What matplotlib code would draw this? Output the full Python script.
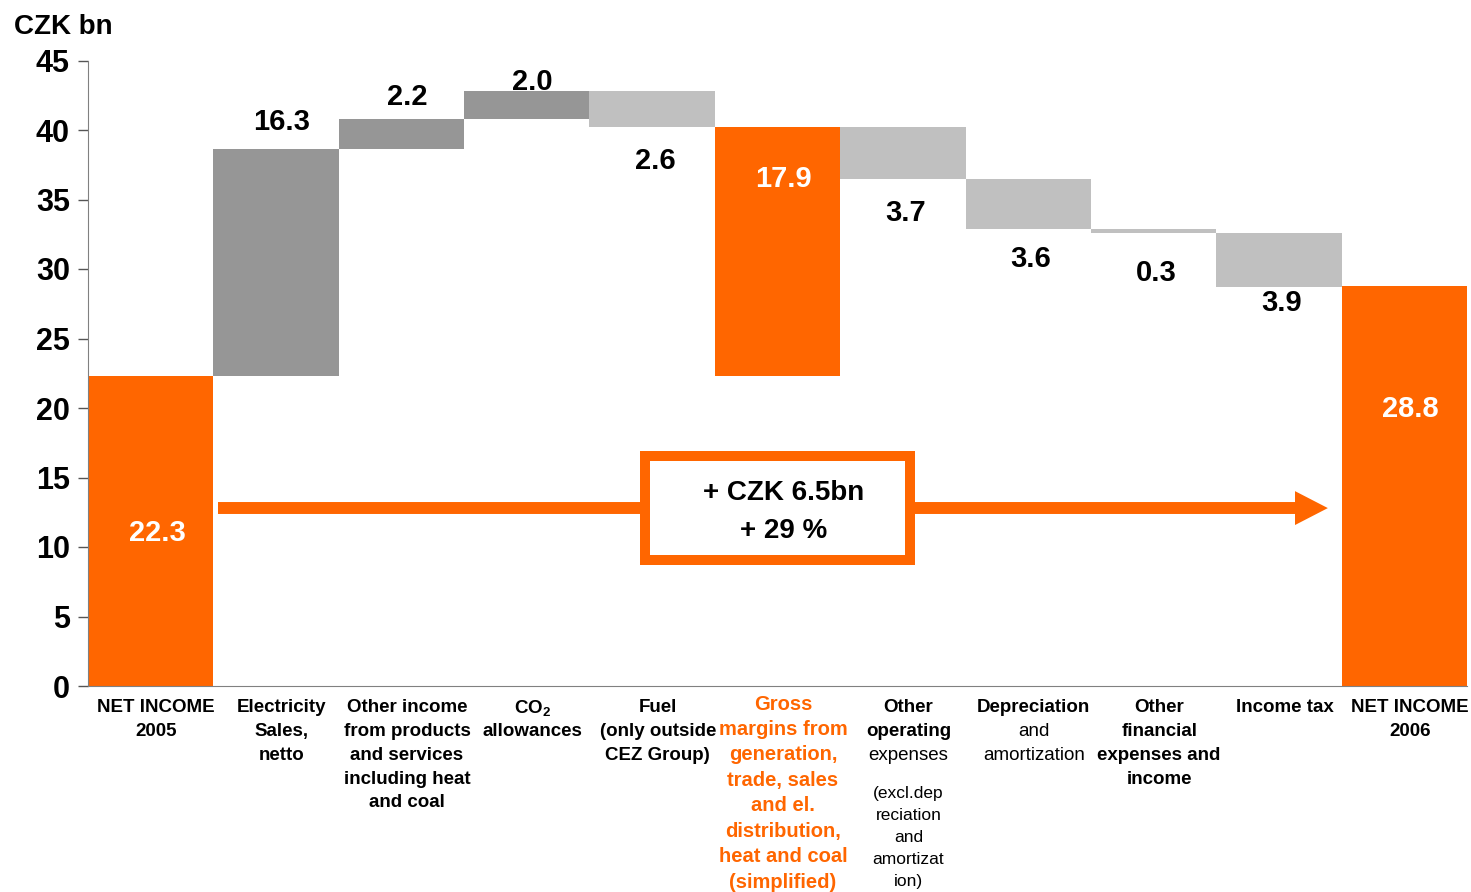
import matplotlib
matplotlib.use('Agg')
import matplotlib.pyplot as plt
from matplotlib.patches import Rectangle, Polygon

plt.rcParams['font.family'] = ['Liberation Sans', 'DejaVu Sans']
plt.rcParams['mathtext.fontset'] = 'custom'
plt.rcParams['mathtext.rm'] = 'Liberation Sans'
plt.rcParams['mathtext.bf'] = 'Liberation Sans:bold'

# --- data ---
kinds = ['total', 'up', 'up', 'up', 'down', 'subtotal', 'down', 'down', 'down', 'down', 'total']
values = [22.3, 16.3, 2.2, 2.0, 2.6, 17.9, 3.7, 3.6, 0.3, 3.9, 28.8]
value_labels = ['22.3', '16.3', '2.2', '2.0', '2.6', '17.9', '3.7', '3.6', '0.3', '3.9', '28.8']

# category labels, one list of (text, weight) per bar; '' = small gap
cat_lines = [
    [('NET INCOME', 'bold'), ('2005', 'bold')],
    [('Electricity', 'bold'), ('Sales,', 'bold'), ('netto', 'bold')],
    [('Other income', 'bold'), ('from products', 'bold'), ('and services', 'bold'),
     ('including heat', 'bold'), ('and coal', 'bold')],
    [(r'$\mathbf{CO_2}$', 'bold'), ('allowances', 'bold')],
    [('Fuel', 'bold'), ('(only outside', 'bold'), ('CEZ Group)', 'bold')],
    [('Gross', 'bold'), ('margins from', 'bold'), ('generation,', 'bold'), ('trade, sales', 'bold'),
     ('and el.', 'bold'), ('distribution,', 'bold'), ('heat and coal', 'bold'), ('(simplified)', 'bold')],
    [('Other', 'bold'), ('operating', 'bold'), ('expenses', 'normal'), ('', 'normal'),
     ('(excl.dep', 'normal'), ('reciation', 'normal'), ('and', 'normal'), ('amortizat', 'normal'),
     ('ion)', 'normal')],
    [('Depreciation', 'bold'), ('and', 'normal'), ('amortization', 'normal')],
    [('Other', 'bold'), ('financial', 'bold'), ('expenses and', 'bold'), ('income', 'bold')],
    [('Income tax', 'bold')],
    [('NET INCOME', 'bold'), ('2006', 'bold')],
]
delta_text = '+ CZK 6.5bn\n+ 29 %'
unit_label = 'CZK bn'
yticks = [0, 5, 10, 15, 20, 25, 30, 35, 40, 45]

# --- style ---
ORANGE = '#FF6600'
DARK = '#969696'
LIGHT = '#C0C0C0'
PX = 0.72  # points per pixel at dpi 100

# label offsets (points) from bar top (up) / bar bottom (down) / bar top (orange, inside)
label_dy = [-113, 20, 16, 6.5, -24, -37, -24.5, -22, -29, -11.5, -88.6]

fig = plt.figure(figsize=(14.71, 8.92), dpi=100)
ax = fig.add_axes([88/1471, (892-686)/892, (1467-88)/1471, (686-60.5)/892])

level = 0.0
for i, (k, v) in enumerate(zip(kinds, values)):
    if k == 'total':
        bottom = 0.0
        level = v
        col = ORANGE
    elif k == 'subtotal':
        bottom = values[0]
        level = values[0] + v
        col = ORANGE
    elif k == 'up':
        bottom = level
        level = level + v
        col = DARK
    else:
        level = level - v
        bottom = level
        col = LIGHT
    ax.bar(i, v, bottom=bottom, width=1.0, color=col, linewidth=0, zorder=2)

    if col == ORANGE:
        ax.annotate(value_labels[i], (i, bottom + v), xytext=(4.5, label_dy[i]),
                    textcoords='offset points', ha='center', va='center',
                    fontsize=21, fontweight='bold', color='white', zorder=5)
    elif k == 'up':
        ax.annotate(value_labels[i], (i, bottom + v), xytext=(4, label_dy[i]),
                    textcoords='offset points', ha='center', va='center',
                    fontsize=21, fontweight='bold', color='black', zorder=5)
    else:
        ax.annotate(value_labels[i], (i, bottom), xytext=(2, label_dy[i]),
                    textcoords='offset points', ha='center', va='center',
                    fontsize=21, fontweight='bold', color='black', zorder=5)

# category labels below axis
for i, lines in enumerate(cat_lines):
    if i == 5:
        size, y_px, col = 14.5, 704, ORANGE
    else:
        size, y_px, col = 13.5, 708, 'black'
    for txt, w in lines:
        s = size
        if i == 6 and y_px > 770:
            s = 12.5
        if txt == '':
            y_px += 0.6 * size * 1.755
            continue
        ax.annotate(txt, (i, 0), xycoords=('data', 'axes fraction'),
                    xytext=(4, -(y_px - 686) * PX), textcoords='offset points',
                    ha='center', va='center', fontsize=s, fontweight=w,
                    color=col, annotation_clip=False)
        y_px += s * 1.755

# growth arrow and box
ax.plot([0.54, 9.15], [12.8, 12.8], color=ORANGE, linewidth=8.6, solid_capstyle='butt', zorder=3)
ax.add_patch(Polygon([[9.128, 12.8 + 1.22], [9.39, 12.8], [9.128, 12.8 - 1.22]],
                     closed=True, facecolor=ORANGE, edgecolor='none', zorder=3))
ax.add_patch(Rectangle((3.94, 9.05), 2.12, 7.53, facecolor='white', edgecolor=ORANGE,
                       linewidth=7.2, joinstyle='miter', zorder=4))
ax.text(5.05, 12.55, delta_text, ha='center', va='center', fontsize=20,
        fontweight='bold', linespacing=1.6, zorder=5)

ax.set_xlim(-0.5, 10.5)
ax.set_ylim(0, 45)
ax.set_yticks(yticks)
ax.set_xticks([])
ax.tick_params(axis='y', direction='out', length=7.2, width=1, color='#555555', pad=5.8,
               labelsize=22)
for lab in ax.get_yticklabels():
    lab.set_fontweight('bold')
ax.spines['top'].set_visible(False)
ax.spines['right'].set_visible(False)
ax.spines['left'].set_color('#808080')
ax.spines['bottom'].set_color('#808080')
ax.spines['bottom'].set_zorder(6)

fig.text(14/1471, 1 - 27/892, unit_label, ha='left', va='center', fontsize=20, fontweight='bold')

plt.savefig('out.png', dpi=100)
plt.close()
